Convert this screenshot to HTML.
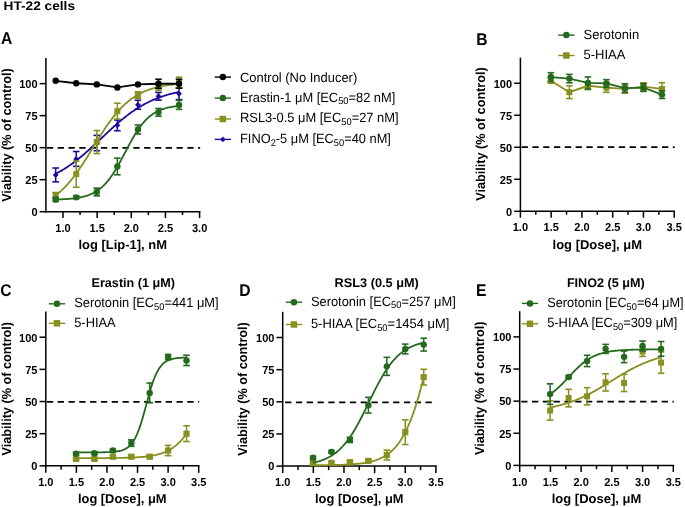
<!DOCTYPE html>
<html><head><meta charset="utf-8"><style>
html,body{margin:0;padding:0;background:#fff;}
svg{display:block;font-family:"Liberation Sans", sans-serif;text-rendering:geometricPrecision;}
#w{width:685px;height:507px;will-change:transform;}
</style></head><body><div id="w">
<svg width="685" height="507" viewBox="0 0 685 507">

<text x="3.50" y="10.20" font-size="12.4" font-weight="bold" textLength="71.5" lengthAdjust="spacingAndGlyphs" fill="#000">HT-22 cells</text>
<text x="0" y="0" transform="translate(0.90,44.00) scale(0.92,1)" font-size="17" font-weight="bold" fill="#000">A</text>
<text x="0" y="0" transform="translate(476.30,44.50) scale(0.92,1)" font-size="17" font-weight="bold" fill="#000">B</text>
<text x="0" y="0" transform="translate(0.30,295.70) scale(0.92,1)" font-size="17" font-weight="bold" fill="#000">C</text>
<text x="0" y="0" transform="translate(239.30,295.50) scale(0.92,1)" font-size="17" font-weight="bold" fill="#000">D</text>
<text x="0" y="0" transform="translate(476.00,295.50) scale(0.92,1)" font-size="17" font-weight="bold" fill="#000">E</text>
<line x1="45.90" y1="58.00" x2="45.90" y2="212.45" stroke="#000" stroke-width="1.5"/>
<line x1="45.15" y1="211.70" x2="200.35" y2="211.70" stroke="#000" stroke-width="1.5"/>
<line x1="39.60" y1="211.70" x2="45.90" y2="211.70" stroke="#000" stroke-width="1.5"/>
<text x="0" y="0" transform="translate(37.60,216.00) scale(0.95,1)" font-size="11.6" font-weight="bold" text-anchor="end" fill="#000">0</text>
<line x1="39.60" y1="179.68" x2="45.90" y2="179.68" stroke="#000" stroke-width="1.5"/>
<text x="0" y="0" transform="translate(37.60,183.98) scale(0.95,1)" font-size="11.6" font-weight="bold" text-anchor="end" fill="#000">25</text>
<line x1="39.60" y1="147.66" x2="45.90" y2="147.66" stroke="#000" stroke-width="1.5"/>
<text x="0" y="0" transform="translate(37.60,151.96) scale(0.95,1)" font-size="11.6" font-weight="bold" text-anchor="end" fill="#000">50</text>
<line x1="39.60" y1="115.64" x2="45.90" y2="115.64" stroke="#000" stroke-width="1.5"/>
<text x="0" y="0" transform="translate(37.60,119.94) scale(0.95,1)" font-size="11.6" font-weight="bold" text-anchor="end" fill="#000">75</text>
<line x1="39.60" y1="83.62" x2="45.90" y2="83.62" stroke="#000" stroke-width="1.5"/>
<text x="0" y="0" transform="translate(37.60,87.92) scale(0.95,1)" font-size="11.6" font-weight="bold" text-anchor="end" fill="#000">100</text>
<line x1="62.98" y1="211.70" x2="62.98" y2="218.10" stroke="#000" stroke-width="1.5"/>
<text x="0" y="0" transform="translate(62.98,231.80) scale(0.95,1)" font-size="11.6" font-weight="bold" text-anchor="middle" fill="#000">1.0</text>
<line x1="97.13" y1="211.70" x2="97.13" y2="218.10" stroke="#000" stroke-width="1.5"/>
<text x="0" y="0" transform="translate(97.13,231.80) scale(0.95,1)" font-size="11.6" font-weight="bold" text-anchor="middle" fill="#000">1.5</text>
<line x1="131.29" y1="211.70" x2="131.29" y2="218.10" stroke="#000" stroke-width="1.5"/>
<text x="0" y="0" transform="translate(131.29,231.80) scale(0.95,1)" font-size="11.6" font-weight="bold" text-anchor="middle" fill="#000">2.0</text>
<line x1="165.44" y1="211.70" x2="165.44" y2="218.10" stroke="#000" stroke-width="1.5"/>
<text x="0" y="0" transform="translate(165.44,231.80) scale(0.95,1)" font-size="11.6" font-weight="bold" text-anchor="middle" fill="#000">2.5</text>
<line x1="199.60" y1="211.70" x2="199.60" y2="218.10" stroke="#000" stroke-width="1.5"/>
<text x="0" y="0" transform="translate(199.60,231.80) scale(0.95,1)" font-size="11.6" font-weight="bold" text-anchor="middle" fill="#000">3.0</text>
<line x1="80.06" y1="211.70" x2="80.06" y2="215.10" stroke="#000" stroke-width="1.5"/>
<line x1="114.21" y1="211.70" x2="114.21" y2="215.10" stroke="#000" stroke-width="1.5"/>
<line x1="148.37" y1="211.70" x2="148.37" y2="215.10" stroke="#000" stroke-width="1.5"/>
<line x1="182.52" y1="211.70" x2="182.52" y2="215.10" stroke="#000" stroke-width="1.5"/>
<text x="122.75" y="248.90" font-size="12.8" font-weight="bold" text-anchor="middle" textLength="88.5" lengthAdjust="spacingAndGlyphs" fill="#000">log [Lip-1], nM</text>
<text x="0" y="0" font-size="13" font-weight="bold" text-anchor="middle" textLength="133.5" lengthAdjust="spacingAndGlyphs" transform="translate(11.0,135.10) rotate(-90)">Viability (% of control)</text>
<line x1="46.70" y1="147.96" x2="200.10" y2="147.96" stroke="#000" stroke-width="1.8" stroke-dasharray="6.3,4.50" stroke-dashoffset="10.60"/>
<polyline points="55.67,173.78 56.70,173.25 57.72,172.71 58.75,172.15 59.78,171.58 60.81,171.00 61.84,170.40 62.87,169.79 63.89,169.17 64.92,168.53 65.95,167.87 66.98,167.21 68.01,166.53 69.03,165.83 70.06,165.12 71.09,164.40 72.12,163.66 73.15,162.91 74.17,162.15 75.20,161.37 76.23,160.58 77.26,159.78 78.29,158.97 79.31,158.14 80.34,157.30 81.37,156.45 82.40,155.59 83.43,154.72 84.45,153.83 85.48,152.94 86.51,152.04 87.54,151.13 88.57,150.21 89.60,149.28 90.62,148.34 91.65,147.40 92.68,146.45 93.71,145.50 94.74,144.54 95.76,143.58 96.79,142.61 97.82,141.64 98.85,140.67 99.88,139.70 100.90,138.72 101.93,137.75 102.96,136.77 103.99,135.80 105.02,134.83 106.04,133.86 107.07,132.89 108.10,131.93 109.13,130.97 110.16,130.02 111.18,129.07 112.21,128.13 113.24,127.20 114.27,126.27 115.30,125.35 116.33,124.44 117.35,123.54 118.38,122.65 119.41,121.76 120.44,120.89 121.47,120.03 122.49,119.18 123.52,118.34 124.55,117.52 125.58,116.71 126.61,115.90 127.63,115.12 128.66,114.34 129.69,113.58 130.72,112.83 131.75,112.09 132.77,111.37 133.80,110.67 134.83,109.97 135.86,109.29 136.89,108.63 137.92,107.98 138.94,107.34 139.97,106.71 141.00,106.11 142.03,105.51 143.06,104.93 144.08,104.36 145.11,103.81 146.14,103.27 147.17,102.74 148.20,102.23 149.22,101.72 150.25,101.24 151.28,100.76 152.31,100.30 153.34,99.85 154.36,99.41 155.39,98.99 156.42,98.57 157.45,98.17 158.48,97.78 159.50,97.40 160.53,97.03 161.56,96.68 162.59,96.33 163.62,95.99 164.65,95.67 165.67,95.35 166.70,95.04 167.73,94.75 168.76,94.46 169.79,94.18 170.81,93.91 171.84,93.65 172.87,93.39 173.90,93.15 174.93,92.91 175.95,92.68 176.98,92.45 178.01,92.24 179.04,92.03" fill="none" stroke="#1d0b9b" stroke-width="1.8"/>
<line x1="55.67" y1="181.86" x2="55.67" y2="168.02" stroke="#1d0b9b" stroke-width="1.5"/>
<line x1="52.37" y1="181.86" x2="58.97" y2="181.86" stroke="#1d0b9b" stroke-width="1.6"/>
<line x1="52.37" y1="168.02" x2="58.97" y2="168.02" stroke="#1d0b9b" stroke-width="1.6"/>
<line x1="76.23" y1="166.36" x2="76.23" y2="151.50" stroke="#1d0b9b" stroke-width="1.5"/>
<line x1="72.93" y1="166.36" x2="79.53" y2="166.36" stroke="#1d0b9b" stroke-width="1.6"/>
<line x1="72.93" y1="151.50" x2="79.53" y2="151.50" stroke="#1d0b9b" stroke-width="1.6"/>
<line x1="96.79" y1="150.73" x2="96.79" y2="135.36" stroke="#1d0b9b" stroke-width="1.5"/>
<line x1="93.49" y1="150.73" x2="100.09" y2="150.73" stroke="#1d0b9b" stroke-width="1.6"/>
<line x1="93.49" y1="135.36" x2="100.09" y2="135.36" stroke="#1d0b9b" stroke-width="1.6"/>
<line x1="117.35" y1="130.75" x2="117.35" y2="119.99" stroke="#1d0b9b" stroke-width="1.5"/>
<line x1="114.05" y1="130.75" x2="120.65" y2="130.75" stroke="#1d0b9b" stroke-width="1.6"/>
<line x1="114.05" y1="119.99" x2="120.65" y2="119.99" stroke="#1d0b9b" stroke-width="1.6"/>
<line x1="137.92" y1="109.23" x2="137.92" y2="100.27" stroke="#1d0b9b" stroke-width="1.5"/>
<line x1="134.62" y1="109.23" x2="141.22" y2="109.23" stroke="#1d0b9b" stroke-width="1.6"/>
<line x1="134.62" y1="100.27" x2="141.22" y2="100.27" stroke="#1d0b9b" stroke-width="1.6"/>
<line x1="158.48" y1="100.14" x2="158.48" y2="92.45" stroke="#1d0b9b" stroke-width="1.5"/>
<line x1="155.18" y1="100.14" x2="161.78" y2="100.14" stroke="#1d0b9b" stroke-width="1.6"/>
<line x1="155.18" y1="92.45" x2="161.78" y2="92.45" stroke="#1d0b9b" stroke-width="1.6"/>
<line x1="179.04" y1="99.63" x2="179.04" y2="87.84" stroke="#1d0b9b" stroke-width="1.5"/>
<line x1="175.74" y1="99.63" x2="182.34" y2="99.63" stroke="#1d0b9b" stroke-width="1.6"/>
<line x1="175.74" y1="87.84" x2="182.34" y2="87.84" stroke="#1d0b9b" stroke-width="1.6"/>
<path d="M55.67,171.94L58.52,174.94L55.67,177.94L52.82,174.94Z" fill="#1d0b9b"/>
<path d="M76.23,155.93L79.08,158.93L76.23,161.93L73.38,158.93Z" fill="#1d0b9b"/>
<path d="M96.79,140.05L99.64,143.05L96.79,146.05L93.94,143.05Z" fill="#1d0b9b"/>
<path d="M117.35,122.37L120.20,125.37L117.35,128.37L114.50,125.37Z" fill="#1d0b9b"/>
<path d="M137.92,101.75L140.77,104.75L137.92,107.75L135.07,104.75Z" fill="#1d0b9b"/>
<path d="M158.48,93.30L161.33,96.30L158.48,99.30L155.63,96.30Z" fill="#1d0b9b"/>
<path d="M179.04,90.74L181.89,93.74L179.04,96.74L176.19,93.74Z" fill="#1d0b9b"/>
<polyline points="55.67,195.33 56.70,194.54 57.72,193.72 58.75,192.87 59.78,191.99 60.81,191.07 61.84,190.13 62.87,189.15 63.89,188.14 64.92,187.10 65.95,186.02 66.98,184.91 68.01,183.77 69.03,182.59 70.06,181.38 71.09,180.14 72.12,178.87 73.15,177.56 74.17,176.23 75.20,174.86 76.23,173.46 77.26,172.04 78.29,170.59 79.31,169.11 80.34,167.60 81.37,166.07 82.40,164.52 83.43,162.95 84.45,161.35 85.48,159.74 86.51,158.12 87.54,156.48 88.57,154.83 89.60,153.17 90.62,151.50 91.65,149.83 92.68,148.15 93.71,146.47 94.74,144.80 95.76,143.13 96.79,141.46 97.82,139.80 98.85,138.15 99.88,136.51 100.90,134.89 101.93,133.28 102.96,131.70 103.99,130.13 105.02,128.58 106.04,127.05 107.07,125.55 108.10,124.08 109.13,122.63 110.16,121.21 111.18,119.82 112.21,118.45 113.24,117.12 114.27,115.82 115.30,114.56 116.33,113.32 117.35,112.12 118.38,110.95 119.41,109.81 120.44,108.71 121.47,107.64 122.49,106.60 123.52,105.60 124.55,104.62 125.58,103.68 126.61,102.78 127.63,101.90 128.66,101.05 129.69,100.24 130.72,99.45 131.75,98.70 132.77,97.97 133.80,97.27 134.83,96.59 135.86,95.95 136.89,95.33 137.92,94.73 138.94,94.16 139.97,93.61 141.00,93.08 142.03,92.58 143.06,92.10 144.08,91.63 145.11,91.19 146.14,90.77 147.17,90.36 148.20,89.98 149.22,89.61 150.25,89.25 151.28,88.92 152.31,88.59 153.34,88.29 154.36,87.99 155.39,87.71 156.42,87.45 157.45,87.19 158.48,86.95 159.50,86.71 160.53,86.49 161.56,86.28 162.59,86.08 163.62,85.89 164.65,85.71 165.67,85.53 166.70,85.37 167.73,85.21 168.76,85.06 169.79,84.92 170.81,84.78 171.84,84.65 172.87,84.53 173.90,84.41 174.93,84.30 175.95,84.19 176.98,84.09 178.01,84.00 179.04,83.90" fill="none" stroke="#889020" stroke-width="1.8"/>
<line x1="55.67" y1="197.61" x2="55.67" y2="192.49" stroke="#889020" stroke-width="1.5"/>
<line x1="52.37" y1="197.61" x2="58.97" y2="197.61" stroke="#889020" stroke-width="1.6"/>
<line x1="52.37" y1="192.49" x2="58.97" y2="192.49" stroke="#889020" stroke-width="1.6"/>
<line x1="76.23" y1="187.24" x2="76.23" y2="161.11" stroke="#889020" stroke-width="1.5"/>
<line x1="72.93" y1="187.24" x2="79.53" y2="187.24" stroke="#889020" stroke-width="1.6"/>
<line x1="72.93" y1="161.11" x2="79.53" y2="161.11" stroke="#889020" stroke-width="1.6"/>
<line x1="96.79" y1="153.55" x2="96.79" y2="130.50" stroke="#889020" stroke-width="1.5"/>
<line x1="93.49" y1="153.55" x2="100.09" y2="153.55" stroke="#889020" stroke-width="1.6"/>
<line x1="93.49" y1="130.50" x2="100.09" y2="130.50" stroke="#889020" stroke-width="1.6"/>
<line x1="117.35" y1="119.10" x2="117.35" y2="103.21" stroke="#889020" stroke-width="1.5"/>
<line x1="114.05" y1="119.10" x2="120.65" y2="119.10" stroke="#889020" stroke-width="1.6"/>
<line x1="114.05" y1="103.21" x2="120.65" y2="103.21" stroke="#889020" stroke-width="1.6"/>
<line x1="137.92" y1="98.47" x2="137.92" y2="91.81" stroke="#889020" stroke-width="1.5"/>
<line x1="134.62" y1="98.47" x2="141.22" y2="98.47" stroke="#889020" stroke-width="1.6"/>
<line x1="134.62" y1="91.81" x2="141.22" y2="91.81" stroke="#889020" stroke-width="1.6"/>
<line x1="158.48" y1="90.41" x2="158.48" y2="83.23" stroke="#889020" stroke-width="1.5"/>
<line x1="155.18" y1="90.41" x2="161.78" y2="90.41" stroke="#889020" stroke-width="1.6"/>
<line x1="155.18" y1="83.23" x2="161.78" y2="83.23" stroke="#889020" stroke-width="1.6"/>
<line x1="179.04" y1="87.46" x2="179.04" y2="77.21" stroke="#889020" stroke-width="1.5"/>
<line x1="175.74" y1="87.46" x2="182.34" y2="87.46" stroke="#889020" stroke-width="1.6"/>
<line x1="175.74" y1="77.21" x2="182.34" y2="77.21" stroke="#889020" stroke-width="1.6"/>
<rect x="52.67" y="192.05" width="6.00" height="6.00" fill="#889020"/>
<rect x="73.23" y="171.17" width="6.00" height="6.00" fill="#889020"/>
<rect x="93.79" y="139.02" width="6.00" height="6.00" fill="#889020"/>
<rect x="114.35" y="108.15" width="6.00" height="6.00" fill="#889020"/>
<rect x="134.92" y="92.14" width="6.00" height="6.00" fill="#889020"/>
<rect x="155.48" y="83.82" width="6.00" height="6.00" fill="#889020"/>
<rect x="176.04" y="79.34" width="6.00" height="6.00" fill="#889020"/>
<polyline points="55.67,199.52 56.70,199.49 57.72,199.46 58.75,199.42 59.78,199.38 60.81,199.34 61.84,199.29 62.87,199.24 63.89,199.19 64.92,199.13 65.95,199.06 66.98,199.00 68.01,198.92 69.03,198.84 70.06,198.75 71.09,198.65 72.12,198.55 73.15,198.44 74.17,198.32 75.20,198.19 76.23,198.04 77.26,197.89 78.29,197.72 79.31,197.54 80.34,197.34 81.37,197.13 82.40,196.90 83.43,196.66 84.45,196.39 85.48,196.10 86.51,195.79 87.54,195.46 88.57,195.10 89.60,194.71 90.62,194.29 91.65,193.84 92.68,193.36 93.71,192.84 94.74,192.28 95.76,191.68 96.79,191.04 97.82,190.36 98.85,189.63 99.88,188.85 100.90,188.02 101.93,187.14 102.96,186.20 103.99,185.20 105.02,184.15 106.04,183.04 107.07,181.86 108.10,180.63 109.13,179.33 110.16,177.97 111.18,176.55 112.21,175.07 113.24,173.52 114.27,171.92 115.30,170.27 116.33,168.56 117.35,166.80 118.38,165.00 119.41,163.16 120.44,161.28 121.47,159.38 122.49,157.45 123.52,155.50 124.55,153.54 125.58,151.58 126.61,149.62 127.63,147.67 128.66,145.73 129.69,143.82 130.72,141.93 131.75,140.08 132.77,138.27 133.80,136.50 134.83,134.77 135.86,133.10 136.89,131.49 137.92,129.93 138.94,128.43 139.97,126.99 141.00,125.61 142.03,124.30 143.06,123.04 144.08,121.85 145.11,120.72 146.14,119.65 147.17,118.64 148.20,117.69 149.22,116.79 150.25,115.94 151.28,115.15 152.31,114.41 153.34,113.71 154.36,113.06 155.39,112.45 156.42,111.88 157.45,111.35 158.48,110.86 159.50,110.40 160.53,109.97 161.56,109.57 162.59,109.21 163.62,108.86 164.65,108.55 165.67,108.25 166.70,107.98 167.73,107.73 168.76,107.49 169.79,107.28 170.81,107.08 171.84,106.89 172.87,106.72 173.90,106.56 174.93,106.42 175.95,106.28 176.98,106.16 178.01,106.04 179.04,105.94" fill="none" stroke="#246a1d" stroke-width="1.8"/>
<line x1="55.67" y1="201.45" x2="55.67" y2="197.61" stroke="#246a1d" stroke-width="1.5"/>
<line x1="52.37" y1="201.45" x2="58.97" y2="201.45" stroke="#246a1d" stroke-width="1.6"/>
<line x1="52.37" y1="197.61" x2="58.97" y2="197.61" stroke="#246a1d" stroke-width="1.6"/>
<line x1="76.23" y1="198.64" x2="76.23" y2="196.07" stroke="#246a1d" stroke-width="1.5"/>
<line x1="72.93" y1="198.64" x2="79.53" y2="198.64" stroke="#246a1d" stroke-width="1.6"/>
<line x1="72.93" y1="196.07" x2="79.53" y2="196.07" stroke="#246a1d" stroke-width="1.6"/>
<line x1="96.79" y1="195.82" x2="96.79" y2="188.13" stroke="#246a1d" stroke-width="1.5"/>
<line x1="93.49" y1="195.82" x2="100.09" y2="195.82" stroke="#246a1d" stroke-width="1.6"/>
<line x1="93.49" y1="188.13" x2="100.09" y2="188.13" stroke="#246a1d" stroke-width="1.6"/>
<line x1="117.35" y1="174.81" x2="117.35" y2="158.16" stroke="#246a1d" stroke-width="1.5"/>
<line x1="114.05" y1="174.81" x2="120.65" y2="174.81" stroke="#246a1d" stroke-width="1.6"/>
<line x1="114.05" y1="158.16" x2="120.65" y2="158.16" stroke="#246a1d" stroke-width="1.6"/>
<line x1="137.92" y1="133.95" x2="137.92" y2="124.99" stroke="#246a1d" stroke-width="1.5"/>
<line x1="134.62" y1="133.95" x2="141.22" y2="133.95" stroke="#246a1d" stroke-width="1.6"/>
<line x1="134.62" y1="124.99" x2="141.22" y2="124.99" stroke="#246a1d" stroke-width="1.6"/>
<line x1="158.48" y1="116.15" x2="158.48" y2="108.46" stroke="#246a1d" stroke-width="1.5"/>
<line x1="155.18" y1="116.15" x2="161.78" y2="116.15" stroke="#246a1d" stroke-width="1.6"/>
<line x1="155.18" y1="108.46" x2="161.78" y2="108.46" stroke="#246a1d" stroke-width="1.6"/>
<line x1="179.04" y1="109.36" x2="179.04" y2="100.40" stroke="#246a1d" stroke-width="1.5"/>
<line x1="175.74" y1="109.36" x2="182.34" y2="109.36" stroke="#246a1d" stroke-width="1.6"/>
<line x1="175.74" y1="100.40" x2="182.34" y2="100.40" stroke="#246a1d" stroke-width="1.6"/>
<circle cx="55.67" cy="199.53" r="3.2" fill="#246a1d"/>
<circle cx="76.23" cy="197.35" r="3.2" fill="#246a1d"/>
<circle cx="96.79" cy="191.98" r="3.2" fill="#246a1d"/>
<circle cx="117.35" cy="166.49" r="3.2" fill="#246a1d"/>
<circle cx="137.92" cy="129.47" r="3.2" fill="#246a1d"/>
<circle cx="158.48" cy="112.31" r="3.2" fill="#246a1d"/>
<circle cx="179.04" cy="104.88" r="3.2" fill="#246a1d"/>
<polyline points="55.67,80.80 76.23,83.23 96.79,84.39 117.35,87.46 137.92,84.39 158.48,83.74 179.04,83.74" fill="none" stroke="#000000" stroke-width="1.8"/>
<line x1="158.48" y1="88.23" x2="158.48" y2="79.26" stroke="#000000" stroke-width="1.5"/>
<line x1="155.18" y1="88.23" x2="161.78" y2="88.23" stroke="#000000" stroke-width="1.6"/>
<line x1="155.18" y1="79.26" x2="161.78" y2="79.26" stroke="#000000" stroke-width="1.6"/>
<line x1="179.04" y1="88.23" x2="179.04" y2="79.26" stroke="#000000" stroke-width="1.5"/>
<line x1="175.74" y1="88.23" x2="182.34" y2="88.23" stroke="#000000" stroke-width="1.6"/>
<line x1="175.74" y1="79.26" x2="182.34" y2="79.26" stroke="#000000" stroke-width="1.6"/>
<circle cx="55.67" cy="80.80" r="3.2" fill="#000000"/>
<circle cx="76.23" cy="83.23" r="3.2" fill="#000000"/>
<circle cx="96.79" cy="84.39" r="3.2" fill="#000000"/>
<circle cx="117.35" cy="87.46" r="3.2" fill="#000000"/>
<circle cx="137.92" cy="84.39" r="3.2" fill="#000000"/>
<circle cx="158.48" cy="83.74" r="3.2" fill="#000000"/>
<circle cx="179.04" cy="83.74" r="3.2" fill="#000000"/>
<line x1="214.70" y1="77.10" x2="231.00" y2="77.10" stroke="#000000" stroke-width="1.4"/>
<circle cx="222.85" cy="77.10" r="3.25" fill="#000000"/>
<text x="240.00" y="81.80" font-size="13.4" textLength="117.2" lengthAdjust="spacingAndGlyphs" fill="#000">Control (No Inducer)</text>
<line x1="214.70" y1="98.10" x2="231.00" y2="98.10" stroke="#246a1d" stroke-width="1.4"/>
<circle cx="222.85" cy="98.10" r="3.25" fill="#246a1d"/>
<text x="240.00" y="101.50" font-size="13.4" textLength="155.3" lengthAdjust="spacingAndGlyphs" fill="#000">Erastin-1 μM [EC<tspan font-size="9.7" dy="2.7">50</tspan><tspan dy="-2.7">=82 nM]</tspan></text>
<line x1="214.70" y1="119.00" x2="231.00" y2="119.00" stroke="#889020" stroke-width="1.4"/>
<rect x="219.60" y="115.75" width="6.50" height="6.50" fill="#889020"/>
<text x="240.00" y="122.40" font-size="13.4" textLength="158.6" lengthAdjust="spacingAndGlyphs" fill="#000">RSL3-0.5 μM [EC<tspan font-size="9.7" dy="2.7">50</tspan><tspan dy="-2.7">=27 nM]</tspan></text>
<line x1="214.70" y1="139.40" x2="231.00" y2="139.40" stroke="#1d0b9b" stroke-width="1.4"/>
<path d="M222.85,136.60L225.51,139.40L222.85,142.20L220.19,139.40Z" fill="#1d0b9b"/>
<text x="240.00" y="142.80" font-size="13.4" textLength="150.9" lengthAdjust="spacingAndGlyphs" fill="#000">FINO<tspan font-size="9.7" dy="2.7">2</tspan><tspan dy="-2.7">-5 μM </tspan>[EC<tspan font-size="9.7" dy="2.7">50</tspan><tspan dy="-2.7">=40 nM]</tspan></text>
<line x1="520.40" y1="57.60" x2="520.40" y2="212.05" stroke="#000" stroke-width="1.5"/>
<line x1="519.65" y1="211.30" x2="674.95" y2="211.30" stroke="#000" stroke-width="1.5"/>
<line x1="514.10" y1="211.30" x2="520.40" y2="211.30" stroke="#000" stroke-width="1.5"/>
<text x="0" y="0" transform="translate(512.10,215.60) scale(0.95,1)" font-size="11.6" font-weight="bold" text-anchor="end" fill="#000">0</text>
<line x1="514.10" y1="179.28" x2="520.40" y2="179.28" stroke="#000" stroke-width="1.5"/>
<text x="0" y="0" transform="translate(512.10,183.58) scale(0.95,1)" font-size="11.6" font-weight="bold" text-anchor="end" fill="#000">25</text>
<line x1="514.10" y1="147.26" x2="520.40" y2="147.26" stroke="#000" stroke-width="1.5"/>
<text x="0" y="0" transform="translate(512.10,151.56) scale(0.95,1)" font-size="11.6" font-weight="bold" text-anchor="end" fill="#000">50</text>
<line x1="514.10" y1="115.24" x2="520.40" y2="115.24" stroke="#000" stroke-width="1.5"/>
<text x="0" y="0" transform="translate(512.10,119.54) scale(0.95,1)" font-size="11.6" font-weight="bold" text-anchor="end" fill="#000">75</text>
<line x1="514.10" y1="83.22" x2="520.40" y2="83.22" stroke="#000" stroke-width="1.5"/>
<text x="0" y="0" transform="translate(512.10,87.52) scale(0.95,1)" font-size="11.6" font-weight="bold" text-anchor="end" fill="#000">100</text>
<line x1="520.40" y1="211.30" x2="520.40" y2="217.70" stroke="#000" stroke-width="1.5"/>
<text x="0" y="0" transform="translate(520.40,231.40) scale(0.95,1)" font-size="11.6" font-weight="bold" text-anchor="middle" fill="#000">1.0</text>
<line x1="551.16" y1="211.30" x2="551.16" y2="217.70" stroke="#000" stroke-width="1.5"/>
<text x="0" y="0" transform="translate(551.16,231.40) scale(0.95,1)" font-size="11.6" font-weight="bold" text-anchor="middle" fill="#000">1.5</text>
<line x1="581.92" y1="211.30" x2="581.92" y2="217.70" stroke="#000" stroke-width="1.5"/>
<text x="0" y="0" transform="translate(581.92,231.40) scale(0.95,1)" font-size="11.6" font-weight="bold" text-anchor="middle" fill="#000">2.0</text>
<line x1="612.68" y1="211.30" x2="612.68" y2="217.70" stroke="#000" stroke-width="1.5"/>
<text x="0" y="0" transform="translate(612.68,231.40) scale(0.95,1)" font-size="11.6" font-weight="bold" text-anchor="middle" fill="#000">2.5</text>
<line x1="643.44" y1="211.30" x2="643.44" y2="217.70" stroke="#000" stroke-width="1.5"/>
<text x="0" y="0" transform="translate(643.44,231.40) scale(0.95,1)" font-size="11.6" font-weight="bold" text-anchor="middle" fill="#000">3.0</text>
<line x1="674.20" y1="211.30" x2="674.20" y2="217.70" stroke="#000" stroke-width="1.5"/>
<text x="0" y="0" transform="translate(674.20,231.40) scale(0.95,1)" font-size="11.6" font-weight="bold" text-anchor="middle" fill="#000">3.5</text>
<line x1="535.78" y1="211.30" x2="535.78" y2="214.70" stroke="#000" stroke-width="1.5"/>
<line x1="566.54" y1="211.30" x2="566.54" y2="214.70" stroke="#000" stroke-width="1.5"/>
<line x1="597.30" y1="211.30" x2="597.30" y2="214.70" stroke="#000" stroke-width="1.5"/>
<line x1="628.06" y1="211.30" x2="628.06" y2="214.70" stroke="#000" stroke-width="1.5"/>
<line x1="658.82" y1="211.30" x2="658.82" y2="214.70" stroke="#000" stroke-width="1.5"/>
<text x="597.30" y="248.90" font-size="12.8" font-weight="bold" text-anchor="middle" textLength="89.5" lengthAdjust="spacingAndGlyphs" fill="#000">log [Dose], μM</text>
<text x="0" y="0" font-size="13" font-weight="bold" text-anchor="middle" textLength="133.5" lengthAdjust="spacingAndGlyphs" transform="translate(485.1,134.00) rotate(-90)">Viability (% of control)</text>
<line x1="521.20" y1="147.16" x2="674.70" y2="147.16" stroke="#000" stroke-width="1.8" stroke-dasharray="6.3,4.50" stroke-dashoffset="10.40"/>
<polyline points="550.85,80.66 569.37,92.18 587.89,85.78 606.40,87.57 624.92,88.85 643.44,86.67 661.96,88.98" fill="none" stroke="#889020" stroke-width="1.8"/>
<line x1="550.85" y1="83.22" x2="550.85" y2="78.09" stroke="#889020" stroke-width="1.5"/>
<line x1="547.55" y1="83.22" x2="554.15" y2="83.22" stroke="#889020" stroke-width="1.6"/>
<line x1="547.55" y1="78.09" x2="554.15" y2="78.09" stroke="#889020" stroke-width="1.6"/>
<line x1="569.37" y1="98.59" x2="569.37" y2="85.78" stroke="#889020" stroke-width="1.5"/>
<line x1="566.07" y1="98.59" x2="572.67" y2="98.59" stroke="#889020" stroke-width="1.6"/>
<line x1="566.07" y1="85.78" x2="572.67" y2="85.78" stroke="#889020" stroke-width="1.6"/>
<line x1="587.89" y1="89.62" x2="587.89" y2="81.94" stroke="#889020" stroke-width="1.5"/>
<line x1="584.59" y1="89.62" x2="591.19" y2="89.62" stroke="#889020" stroke-width="1.6"/>
<line x1="584.59" y1="81.94" x2="591.19" y2="81.94" stroke="#889020" stroke-width="1.6"/>
<line x1="606.40" y1="92.31" x2="606.40" y2="82.83" stroke="#889020" stroke-width="1.5"/>
<line x1="603.10" y1="92.31" x2="609.70" y2="92.31" stroke="#889020" stroke-width="1.6"/>
<line x1="603.10" y1="82.83" x2="609.70" y2="82.83" stroke="#889020" stroke-width="1.6"/>
<line x1="624.92" y1="92.69" x2="624.92" y2="85.01" stroke="#889020" stroke-width="1.5"/>
<line x1="621.62" y1="92.69" x2="628.22" y2="92.69" stroke="#889020" stroke-width="1.6"/>
<line x1="621.62" y1="85.01" x2="628.22" y2="85.01" stroke="#889020" stroke-width="1.6"/>
<line x1="643.44" y1="90.52" x2="643.44" y2="82.83" stroke="#889020" stroke-width="1.5"/>
<line x1="640.14" y1="90.52" x2="646.74" y2="90.52" stroke="#889020" stroke-width="1.6"/>
<line x1="640.14" y1="82.83" x2="646.74" y2="82.83" stroke="#889020" stroke-width="1.6"/>
<line x1="661.96" y1="95.26" x2="661.96" y2="82.70" stroke="#889020" stroke-width="1.5"/>
<line x1="658.66" y1="95.26" x2="665.26" y2="95.26" stroke="#889020" stroke-width="1.6"/>
<line x1="658.66" y1="82.70" x2="665.26" y2="82.70" stroke="#889020" stroke-width="1.6"/>
<rect x="547.85" y="77.66" width="6.00" height="6.00" fill="#889020"/>
<rect x="566.37" y="89.18" width="6.00" height="6.00" fill="#889020"/>
<rect x="584.89" y="82.78" width="6.00" height="6.00" fill="#889020"/>
<rect x="603.40" y="84.57" width="6.00" height="6.00" fill="#889020"/>
<rect x="621.92" y="85.85" width="6.00" height="6.00" fill="#889020"/>
<rect x="640.44" y="83.67" width="6.00" height="6.00" fill="#889020"/>
<rect x="658.96" y="85.98" width="6.00" height="6.00" fill="#889020"/>
<polyline points="550.85,77.07 569.37,78.61 587.89,82.96 606.40,83.47 624.92,88.21 643.44,87.57 661.96,94.62" fill="none" stroke="#246a1d" stroke-width="1.8"/>
<line x1="550.85" y1="81.42" x2="550.85" y2="72.71" stroke="#246a1d" stroke-width="1.5"/>
<line x1="547.55" y1="81.42" x2="554.15" y2="81.42" stroke="#246a1d" stroke-width="1.6"/>
<line x1="547.55" y1="72.71" x2="554.15" y2="72.71" stroke="#246a1d" stroke-width="1.6"/>
<line x1="569.37" y1="82.83" x2="569.37" y2="74.38" stroke="#246a1d" stroke-width="1.5"/>
<line x1="566.07" y1="82.83" x2="572.67" y2="82.83" stroke="#246a1d" stroke-width="1.6"/>
<line x1="566.07" y1="74.38" x2="572.67" y2="74.38" stroke="#246a1d" stroke-width="1.6"/>
<line x1="587.89" y1="88.98" x2="587.89" y2="76.94" stroke="#246a1d" stroke-width="1.5"/>
<line x1="584.59" y1="88.98" x2="591.19" y2="88.98" stroke="#246a1d" stroke-width="1.6"/>
<line x1="584.59" y1="76.94" x2="591.19" y2="76.94" stroke="#246a1d" stroke-width="1.6"/>
<line x1="606.40" y1="87.32" x2="606.40" y2="79.63" stroke="#246a1d" stroke-width="1.5"/>
<line x1="603.10" y1="87.32" x2="609.70" y2="87.32" stroke="#246a1d" stroke-width="1.6"/>
<line x1="603.10" y1="79.63" x2="609.70" y2="79.63" stroke="#246a1d" stroke-width="1.6"/>
<line x1="624.92" y1="92.69" x2="624.92" y2="83.73" stroke="#246a1d" stroke-width="1.5"/>
<line x1="621.62" y1="92.69" x2="628.22" y2="92.69" stroke="#246a1d" stroke-width="1.6"/>
<line x1="621.62" y1="83.73" x2="628.22" y2="83.73" stroke="#246a1d" stroke-width="1.6"/>
<line x1="643.44" y1="91.41" x2="643.44" y2="83.73" stroke="#246a1d" stroke-width="1.5"/>
<line x1="640.14" y1="91.41" x2="646.74" y2="91.41" stroke="#246a1d" stroke-width="1.6"/>
<line x1="640.14" y1="83.73" x2="646.74" y2="83.73" stroke="#246a1d" stroke-width="1.6"/>
<line x1="661.96" y1="98.46" x2="661.96" y2="90.77" stroke="#246a1d" stroke-width="1.5"/>
<line x1="658.66" y1="98.46" x2="665.26" y2="98.46" stroke="#246a1d" stroke-width="1.6"/>
<line x1="658.66" y1="90.77" x2="665.26" y2="90.77" stroke="#246a1d" stroke-width="1.6"/>
<circle cx="550.85" cy="77.07" r="3.2" fill="#246a1d"/>
<circle cx="569.37" cy="78.61" r="3.2" fill="#246a1d"/>
<circle cx="587.89" cy="82.96" r="3.2" fill="#246a1d"/>
<circle cx="606.40" cy="83.47" r="3.2" fill="#246a1d"/>
<circle cx="624.92" cy="88.21" r="3.2" fill="#246a1d"/>
<circle cx="643.44" cy="87.57" r="3.2" fill="#246a1d"/>
<circle cx="661.96" cy="94.62" r="3.2" fill="#246a1d"/>
<line x1="558.20" y1="35.10" x2="574.50" y2="35.10" stroke="#246a1d" stroke-width="1.4"/>
<circle cx="566.35" cy="35.10" r="3.25" fill="#246a1d"/>
<text x="583.60" y="39.00" font-size="13.4" textLength="55.5" lengthAdjust="spacingAndGlyphs" fill="#000">Serotonin</text>
<line x1="558.20" y1="55.50" x2="574.50" y2="55.50" stroke="#889020" stroke-width="1.4"/>
<rect x="563.10" y="52.25" width="6.50" height="6.50" fill="#889020"/>
<text x="583.60" y="59.40" font-size="13.4" textLength="41.8" lengthAdjust="spacingAndGlyphs" fill="#000">5-HIAA</text>
<line x1="45.80" y1="311.50" x2="45.80" y2="466.60" stroke="#000" stroke-width="1.5"/>
<line x1="45.05" y1="465.85" x2="199.45" y2="465.85" stroke="#000" stroke-width="1.5"/>
<line x1="39.50" y1="465.85" x2="45.80" y2="465.85" stroke="#000" stroke-width="1.5"/>
<text x="0" y="0" transform="translate(37.50,470.15) scale(0.95,1)" font-size="11.6" font-weight="bold" text-anchor="end" fill="#000">0</text>
<line x1="39.50" y1="433.69" x2="45.80" y2="433.69" stroke="#000" stroke-width="1.5"/>
<text x="0" y="0" transform="translate(37.50,437.99) scale(0.95,1)" font-size="11.6" font-weight="bold" text-anchor="end" fill="#000">25</text>
<line x1="39.50" y1="401.54" x2="45.80" y2="401.54" stroke="#000" stroke-width="1.5"/>
<text x="0" y="0" transform="translate(37.50,405.84) scale(0.95,1)" font-size="11.6" font-weight="bold" text-anchor="end" fill="#000">50</text>
<line x1="39.50" y1="369.38" x2="45.80" y2="369.38" stroke="#000" stroke-width="1.5"/>
<text x="0" y="0" transform="translate(37.50,373.68) scale(0.95,1)" font-size="11.6" font-weight="bold" text-anchor="end" fill="#000">75</text>
<line x1="39.50" y1="337.23" x2="45.80" y2="337.23" stroke="#000" stroke-width="1.5"/>
<text x="0" y="0" transform="translate(37.50,341.53) scale(0.95,1)" font-size="11.6" font-weight="bold" text-anchor="end" fill="#000">100</text>
<line x1="45.80" y1="465.85" x2="45.80" y2="472.85" stroke="#000" stroke-width="1.5"/>
<text x="0" y="0" transform="translate(45.80,485.95) scale(0.95,1)" font-size="11.6" font-weight="bold" text-anchor="middle" fill="#000">1.0</text>
<line x1="76.38" y1="465.85" x2="76.38" y2="472.85" stroke="#000" stroke-width="1.5"/>
<text x="0" y="0" transform="translate(76.38,485.95) scale(0.95,1)" font-size="11.6" font-weight="bold" text-anchor="middle" fill="#000">1.5</text>
<line x1="106.96" y1="465.85" x2="106.96" y2="472.85" stroke="#000" stroke-width="1.5"/>
<text x="0" y="0" transform="translate(106.96,485.95) scale(0.95,1)" font-size="11.6" font-weight="bold" text-anchor="middle" fill="#000">2.0</text>
<line x1="137.54" y1="465.85" x2="137.54" y2="472.85" stroke="#000" stroke-width="1.5"/>
<text x="0" y="0" transform="translate(137.54,485.95) scale(0.95,1)" font-size="11.6" font-weight="bold" text-anchor="middle" fill="#000">2.5</text>
<line x1="168.12" y1="465.85" x2="168.12" y2="472.85" stroke="#000" stroke-width="1.5"/>
<text x="0" y="0" transform="translate(168.12,485.95) scale(0.95,1)" font-size="11.6" font-weight="bold" text-anchor="middle" fill="#000">3.0</text>
<line x1="198.70" y1="465.85" x2="198.70" y2="472.85" stroke="#000" stroke-width="1.5"/>
<text x="0" y="0" transform="translate(198.70,485.95) scale(0.95,1)" font-size="11.6" font-weight="bold" text-anchor="middle" fill="#000">3.5</text>
<line x1="61.09" y1="465.85" x2="61.09" y2="469.85" stroke="#000" stroke-width="1.5"/>
<line x1="91.67" y1="465.85" x2="91.67" y2="469.85" stroke="#000" stroke-width="1.5"/>
<line x1="122.25" y1="465.85" x2="122.25" y2="469.85" stroke="#000" stroke-width="1.5"/>
<line x1="152.83" y1="465.85" x2="152.83" y2="469.85" stroke="#000" stroke-width="1.5"/>
<line x1="183.41" y1="465.85" x2="183.41" y2="469.85" stroke="#000" stroke-width="1.5"/>
<text x="122.25" y="503.20" font-size="12.8" font-weight="bold" text-anchor="middle" textLength="88.5" lengthAdjust="spacingAndGlyphs" fill="#000">log [Dose], μM</text>
<text x="0" y="0" font-size="13" font-weight="bold" text-anchor="middle" textLength="133.5" lengthAdjust="spacingAndGlyphs" transform="translate(11.0,388.68) rotate(-90)">Viability (% of control)</text>
<line x1="46.60" y1="401.94" x2="199.20" y2="401.94" stroke="#000" stroke-width="1.8" stroke-dasharray="6.3,4.50" stroke-dashoffset="10.50"/>
<text x="91.50" y="286.60" font-size="12.6" font-weight="bold" textLength="83.5" lengthAdjust="spacingAndGlyphs" fill="#000">Erastin (1 μM)</text>
<polyline points="76.07,458.12 76.99,458.12 77.92,458.12 78.84,458.12 79.76,458.12 80.68,458.12 81.60,458.12 82.52,458.12 83.44,458.12 84.36,458.11 85.28,458.11 86.20,458.11 87.12,458.11 88.04,458.11 88.96,458.11 89.88,458.11 90.80,458.10 91.72,458.10 92.64,458.10 93.56,458.10 94.48,458.10 95.40,458.09 96.32,458.09 97.24,458.09 98.17,458.08 99.09,458.08 100.01,458.08 100.93,458.07 101.85,458.07 102.77,458.06 103.69,458.06 104.61,458.05 105.53,458.05 106.45,458.04 107.37,458.04 108.29,458.03 109.21,458.02 110.13,458.02 111.05,458.01 111.97,458.00 112.89,457.99 113.81,457.98 114.73,457.97 115.65,457.96 116.57,457.95 117.49,457.93 118.42,457.92 119.34,457.91 120.26,457.89 121.18,457.87 122.10,457.86 123.02,457.84 123.94,457.82 124.86,457.79 125.78,457.77 126.70,457.74 127.62,457.72 128.54,457.69 129.46,457.66 130.38,457.63 131.30,457.59 132.22,457.55 133.14,457.51 134.06,457.47 134.98,457.43 135.90,457.38 136.82,457.32 137.74,457.27 138.67,457.21 139.59,457.15 140.51,457.08 141.43,457.00 142.35,456.93 143.27,456.84 144.19,456.76 145.11,456.66 146.03,456.56 146.95,456.45 147.87,456.34 148.79,456.21 149.71,456.08 150.63,455.94 151.55,455.80 152.47,455.64 153.39,455.47 154.31,455.29 155.23,455.09 156.15,454.89 157.07,454.67 157.99,454.44 158.92,454.19 159.84,453.92 160.76,453.64 161.68,453.34 162.60,453.02 163.52,452.68 164.44,452.32 165.36,451.94 166.28,451.53 167.20,451.10 168.12,450.64 169.04,450.16 169.96,449.64 170.88,449.10 171.80,448.52 172.72,447.91 173.64,447.26 174.56,446.58 175.48,445.86 176.40,445.10 177.32,444.29 178.25,443.45 179.17,442.56 180.09,441.63 181.01,440.65 181.93,439.62 182.85,438.54 183.77,437.41 184.69,436.23 185.61,435.00 186.53,433.72" fill="none" stroke="#889020" stroke-width="1.8"/>
<line x1="76.07" y1="460.19" x2="76.07" y2="457.62" stroke="#889020" stroke-width="1.5"/>
<line x1="72.77" y1="460.19" x2="79.37" y2="460.19" stroke="#889020" stroke-width="1.6"/>
<line x1="72.77" y1="457.62" x2="79.37" y2="457.62" stroke="#889020" stroke-width="1.6"/>
<line x1="94.48" y1="460.19" x2="94.48" y2="457.62" stroke="#889020" stroke-width="1.5"/>
<line x1="91.18" y1="460.19" x2="97.78" y2="460.19" stroke="#889020" stroke-width="1.6"/>
<line x1="91.18" y1="457.62" x2="97.78" y2="457.62" stroke="#889020" stroke-width="1.6"/>
<line x1="112.89" y1="458.00" x2="112.89" y2="455.43" stroke="#889020" stroke-width="1.5"/>
<line x1="109.59" y1="458.00" x2="116.19" y2="458.00" stroke="#889020" stroke-width="1.6"/>
<line x1="109.59" y1="455.43" x2="116.19" y2="455.43" stroke="#889020" stroke-width="1.6"/>
<line x1="131.30" y1="458.00" x2="131.30" y2="455.43" stroke="#889020" stroke-width="1.5"/>
<line x1="128.00" y1="458.00" x2="134.60" y2="458.00" stroke="#889020" stroke-width="1.6"/>
<line x1="128.00" y1="455.43" x2="134.60" y2="455.43" stroke="#889020" stroke-width="1.6"/>
<line x1="149.71" y1="458.00" x2="149.71" y2="455.43" stroke="#889020" stroke-width="1.5"/>
<line x1="146.41" y1="458.00" x2="153.01" y2="458.00" stroke="#889020" stroke-width="1.6"/>
<line x1="146.41" y1="455.43" x2="153.01" y2="455.43" stroke="#889020" stroke-width="1.6"/>
<line x1="168.12" y1="455.69" x2="168.12" y2="445.40" stroke="#889020" stroke-width="1.5"/>
<line x1="164.82" y1="455.69" x2="171.42" y2="455.69" stroke="#889020" stroke-width="1.6"/>
<line x1="164.82" y1="445.40" x2="171.42" y2="445.40" stroke="#889020" stroke-width="1.6"/>
<line x1="186.53" y1="441.54" x2="186.53" y2="425.85" stroke="#889020" stroke-width="1.5"/>
<line x1="183.23" y1="441.54" x2="189.83" y2="441.54" stroke="#889020" stroke-width="1.6"/>
<line x1="183.23" y1="425.85" x2="189.83" y2="425.85" stroke="#889020" stroke-width="1.6"/>
<rect x="72.97" y="455.80" width="6.20" height="6.20" fill="#889020"/>
<rect x="91.38" y="455.80" width="6.20" height="6.20" fill="#889020"/>
<rect x="109.79" y="453.62" width="6.20" height="6.20" fill="#889020"/>
<rect x="128.20" y="453.62" width="6.20" height="6.20" fill="#889020"/>
<rect x="146.61" y="453.62" width="6.20" height="6.20" fill="#889020"/>
<rect x="165.02" y="447.44" width="6.20" height="6.20" fill="#889020"/>
<rect x="183.43" y="430.59" width="6.20" height="6.20" fill="#889020"/>
<polyline points="76.07,452.38 76.99,452.38 77.92,452.38 78.84,452.38 79.76,452.38 80.68,452.38 81.60,452.38 82.52,452.38 83.44,452.38 84.36,452.38 85.28,452.38 86.20,452.38 87.12,452.37 88.04,452.37 88.96,452.37 89.88,452.37 90.80,452.37 91.72,452.36 92.64,452.36 93.56,452.36 94.48,452.35 95.40,452.35 96.32,452.35 97.24,452.34 98.17,452.33 99.09,452.32 100.01,452.32 100.93,452.30 101.85,452.29 102.77,452.28 103.69,452.26 104.61,452.24 105.53,452.22 106.45,452.20 107.37,452.17 108.29,452.14 109.21,452.10 110.13,452.05 111.05,452.00 111.97,451.94 112.89,451.88 113.81,451.80 114.73,451.71 115.65,451.60 116.57,451.48 117.49,451.34 118.42,451.19 119.34,451.00 120.26,450.79 121.18,450.55 122.10,450.27 123.02,449.95 123.94,449.58 124.86,449.16 125.78,448.68 126.70,448.13 127.62,447.51 128.54,446.80 129.46,445.99 130.38,445.07 131.30,444.04 132.22,442.87 133.14,441.56 134.06,440.10 134.98,438.47 135.90,436.67 136.82,434.68 137.74,432.51 138.67,430.14 139.59,427.59 140.51,424.86 141.43,421.95 142.35,418.89 143.27,415.70 144.19,412.40 145.11,409.03 146.03,405.61 146.95,402.19 147.87,398.79 148.79,395.45 149.71,392.21 150.63,389.09 151.55,386.12 152.47,383.31 153.39,380.68 154.31,378.24 155.23,375.98 156.15,373.92 157.07,372.04 157.99,370.34 158.92,368.81 159.84,367.43 160.76,366.21 161.68,365.12 162.60,364.15 163.52,363.30 164.44,362.55 165.36,361.88 166.28,361.30 167.20,360.80 168.12,360.35 169.04,359.96 169.96,359.62 170.88,359.33 171.80,359.07 172.72,358.85 173.64,358.65 174.56,358.48 175.48,358.34 176.40,358.21 177.32,358.10 178.25,358.00 179.17,357.92 180.09,357.85 181.01,357.79 181.93,357.73 182.85,357.68 183.77,357.64 184.69,357.61 185.61,357.58 186.53,357.55" fill="none" stroke="#246a1d" stroke-width="1.8"/>
<line x1="76.07" y1="454.92" x2="76.07" y2="452.34" stroke="#246a1d" stroke-width="1.5"/>
<line x1="72.77" y1="454.92" x2="79.37" y2="454.92" stroke="#246a1d" stroke-width="1.6"/>
<line x1="72.77" y1="452.34" x2="79.37" y2="452.34" stroke="#246a1d" stroke-width="1.6"/>
<line x1="94.48" y1="454.53" x2="94.48" y2="451.96" stroke="#246a1d" stroke-width="1.5"/>
<line x1="91.18" y1="454.53" x2="97.78" y2="454.53" stroke="#246a1d" stroke-width="1.6"/>
<line x1="91.18" y1="451.96" x2="97.78" y2="451.96" stroke="#246a1d" stroke-width="1.6"/>
<line x1="112.89" y1="451.70" x2="112.89" y2="449.13" stroke="#246a1d" stroke-width="1.5"/>
<line x1="109.59" y1="451.70" x2="116.19" y2="451.70" stroke="#246a1d" stroke-width="1.6"/>
<line x1="109.59" y1="449.13" x2="116.19" y2="449.13" stroke="#246a1d" stroke-width="1.6"/>
<line x1="131.30" y1="446.30" x2="131.30" y2="439.87" stroke="#246a1d" stroke-width="1.5"/>
<line x1="128.00" y1="446.30" x2="134.60" y2="446.30" stroke="#246a1d" stroke-width="1.6"/>
<line x1="128.00" y1="439.87" x2="134.60" y2="439.87" stroke="#246a1d" stroke-width="1.6"/>
<line x1="149.71" y1="402.82" x2="149.71" y2="383.02" stroke="#246a1d" stroke-width="1.5"/>
<line x1="146.41" y1="402.82" x2="153.01" y2="402.82" stroke="#246a1d" stroke-width="1.6"/>
<line x1="146.41" y1="383.02" x2="153.01" y2="383.02" stroke="#246a1d" stroke-width="1.6"/>
<line x1="168.12" y1="359.61" x2="168.12" y2="354.46" stroke="#246a1d" stroke-width="1.5"/>
<line x1="164.82" y1="359.61" x2="171.42" y2="359.61" stroke="#246a1d" stroke-width="1.6"/>
<line x1="164.82" y1="354.46" x2="171.42" y2="354.46" stroke="#246a1d" stroke-width="1.6"/>
<line x1="186.53" y1="365.52" x2="186.53" y2="355.23" stroke="#246a1d" stroke-width="1.5"/>
<line x1="183.23" y1="365.52" x2="189.83" y2="365.52" stroke="#246a1d" stroke-width="1.6"/>
<line x1="183.23" y1="355.23" x2="189.83" y2="355.23" stroke="#246a1d" stroke-width="1.6"/>
<circle cx="76.07" cy="453.63" r="3.2" fill="#246a1d"/>
<circle cx="94.48" cy="453.24" r="3.2" fill="#246a1d"/>
<circle cx="112.89" cy="450.42" r="3.2" fill="#246a1d"/>
<circle cx="131.30" cy="443.08" r="3.2" fill="#246a1d"/>
<circle cx="149.71" cy="392.92" r="3.2" fill="#246a1d"/>
<circle cx="168.12" cy="357.03" r="3.2" fill="#246a1d"/>
<circle cx="186.53" cy="360.38" r="3.2" fill="#246a1d"/>
<line x1="48.80" y1="303.80" x2="65.10" y2="303.80" stroke="#246a1d" stroke-width="1.4"/>
<circle cx="56.95" cy="303.80" r="3.25" fill="#246a1d"/>
<text x="74.20" y="307.20" font-size="13.4" textLength="144.4" lengthAdjust="spacingAndGlyphs" fill="#000">Serotonin [EC<tspan font-size="9.7" dy="2.7">50</tspan><tspan dy="-2.7">=441 μM]</tspan></text>
<line x1="48.80" y1="323.30" x2="65.10" y2="323.30" stroke="#889020" stroke-width="1.4"/>
<rect x="53.70" y="320.05" width="6.50" height="6.50" fill="#889020"/>
<text x="74.20" y="326.70" font-size="13.4" textLength="41.5" lengthAdjust="spacingAndGlyphs" fill="#000">5-HIAA</text>
<line x1="282.70" y1="311.80" x2="282.70" y2="466.85" stroke="#000" stroke-width="1.5"/>
<line x1="281.95" y1="466.10" x2="436.65" y2="466.10" stroke="#000" stroke-width="1.5"/>
<line x1="276.40" y1="466.10" x2="282.70" y2="466.10" stroke="#000" stroke-width="1.5"/>
<text x="0" y="0" transform="translate(274.40,470.40) scale(0.95,1)" font-size="11.6" font-weight="bold" text-anchor="end" fill="#000">0</text>
<line x1="276.40" y1="433.95" x2="282.70" y2="433.95" stroke="#000" stroke-width="1.5"/>
<text x="0" y="0" transform="translate(274.40,438.25) scale(0.95,1)" font-size="11.6" font-weight="bold" text-anchor="end" fill="#000">25</text>
<line x1="276.40" y1="401.81" x2="282.70" y2="401.81" stroke="#000" stroke-width="1.5"/>
<text x="0" y="0" transform="translate(274.40,406.11) scale(0.95,1)" font-size="11.6" font-weight="bold" text-anchor="end" fill="#000">50</text>
<line x1="276.40" y1="369.66" x2="282.70" y2="369.66" stroke="#000" stroke-width="1.5"/>
<text x="0" y="0" transform="translate(274.40,373.96) scale(0.95,1)" font-size="11.6" font-weight="bold" text-anchor="end" fill="#000">75</text>
<line x1="276.40" y1="337.52" x2="282.70" y2="337.52" stroke="#000" stroke-width="1.5"/>
<text x="0" y="0" transform="translate(274.40,341.82) scale(0.95,1)" font-size="11.6" font-weight="bold" text-anchor="end" fill="#000">100</text>
<line x1="282.70" y1="466.10" x2="282.70" y2="473.10" stroke="#000" stroke-width="1.5"/>
<text x="0" y="0" transform="translate(282.70,486.20) scale(0.95,1)" font-size="11.6" font-weight="bold" text-anchor="middle" fill="#000">1.0</text>
<line x1="313.34" y1="466.10" x2="313.34" y2="473.10" stroke="#000" stroke-width="1.5"/>
<text x="0" y="0" transform="translate(313.34,486.20) scale(0.95,1)" font-size="11.6" font-weight="bold" text-anchor="middle" fill="#000">1.5</text>
<line x1="343.98" y1="466.10" x2="343.98" y2="473.10" stroke="#000" stroke-width="1.5"/>
<text x="0" y="0" transform="translate(343.98,486.20) scale(0.95,1)" font-size="11.6" font-weight="bold" text-anchor="middle" fill="#000">2.0</text>
<line x1="374.62" y1="466.10" x2="374.62" y2="473.10" stroke="#000" stroke-width="1.5"/>
<text x="0" y="0" transform="translate(374.62,486.20) scale(0.95,1)" font-size="11.6" font-weight="bold" text-anchor="middle" fill="#000">2.5</text>
<line x1="405.26" y1="466.10" x2="405.26" y2="473.10" stroke="#000" stroke-width="1.5"/>
<text x="0" y="0" transform="translate(405.26,486.20) scale(0.95,1)" font-size="11.6" font-weight="bold" text-anchor="middle" fill="#000">3.0</text>
<line x1="435.90" y1="466.10" x2="435.90" y2="473.10" stroke="#000" stroke-width="1.5"/>
<text x="0" y="0" transform="translate(435.90,486.20) scale(0.95,1)" font-size="11.6" font-weight="bold" text-anchor="middle" fill="#000">3.5</text>
<line x1="298.02" y1="466.10" x2="298.02" y2="470.10" stroke="#000" stroke-width="1.5"/>
<line x1="328.66" y1="466.10" x2="328.66" y2="470.10" stroke="#000" stroke-width="1.5"/>
<line x1="359.30" y1="466.10" x2="359.30" y2="470.10" stroke="#000" stroke-width="1.5"/>
<line x1="389.94" y1="466.10" x2="389.94" y2="470.10" stroke="#000" stroke-width="1.5"/>
<line x1="420.58" y1="466.10" x2="420.58" y2="470.10" stroke="#000" stroke-width="1.5"/>
<text x="359.30" y="503.20" font-size="12.8" font-weight="bold" text-anchor="middle" textLength="88.5" lengthAdjust="spacingAndGlyphs" fill="#000">log [Dose], μM</text>
<text x="0" y="0" font-size="13" font-weight="bold" text-anchor="middle" textLength="133.5" lengthAdjust="spacingAndGlyphs" transform="translate(247.2,388.95) rotate(-90)">Viability (% of control)</text>
<line x1="283.50" y1="402.41" x2="436.40" y2="402.41" stroke="#000" stroke-width="1.8" stroke-dasharray="6.3,4.50" stroke-dashoffset="9.20"/>
<text x="334.60" y="286.60" font-size="12.6" font-weight="bold" textLength="84.2" lengthAdjust="spacingAndGlyphs" fill="#000">RSL3 (0.5 μM)</text>
<polyline points="313.03,465.28 313.96,465.27 314.88,465.27 315.80,465.26 316.72,465.26 317.64,465.25 318.57,465.24 319.49,465.24 320.41,465.23 321.33,465.22 322.26,465.21 323.18,465.20 324.10,465.19 325.02,465.18 325.95,465.17 326.87,465.16 327.79,465.15 328.71,465.13 329.63,465.12 330.56,465.10 331.48,465.09 332.40,465.07 333.32,465.05 334.25,465.03 335.17,465.01 336.09,464.99 337.01,464.97 337.93,464.94 338.86,464.92 339.78,464.89 340.70,464.86 341.62,464.83 342.55,464.79 343.47,464.76 344.39,464.72 345.31,464.68 346.24,464.64 347.16,464.59 348.08,464.54 349.00,464.49 349.92,464.44 350.85,464.38 351.77,464.31 352.69,464.25 353.61,464.18 354.54,464.10 355.46,464.02 356.38,463.94 357.30,463.85 358.22,463.75 359.15,463.65 360.07,463.55 360.99,463.43 361.91,463.31 362.84,463.18 363.76,463.04 364.68,462.90 365.60,462.74 366.52,462.58 367.45,462.40 368.37,462.21 369.29,462.02 370.21,461.81 371.14,461.58 372.06,461.35 372.98,461.10 373.90,460.83 374.83,460.55 375.75,460.25 376.67,459.93 377.59,459.59 378.51,459.23 379.44,458.85 380.36,458.44 381.28,458.01 382.20,457.56 383.13,457.08 384.05,456.57 384.97,456.03 385.89,455.45 386.81,454.85 387.74,454.21 388.66,453.53 389.58,452.81 390.50,452.05 391.43,451.24 392.35,450.39 393.27,449.49 394.19,448.54 395.12,447.54 396.04,446.48 396.96,445.37 397.88,444.19 398.80,442.95 399.73,441.65 400.65,440.27 401.57,438.83 402.49,437.31 403.42,435.72 404.34,434.04 405.26,432.28 406.18,430.44 407.10,428.51 408.03,426.49 408.95,424.38 409.87,422.18 410.79,419.88 411.72,417.48 412.64,414.98 413.56,412.39 414.48,409.69 415.40,406.89 416.33,403.98 417.25,400.98 418.17,397.87 419.09,394.66 420.02,391.36 420.94,387.96 421.86,384.46 422.78,380.87 423.71,377.19" fill="none" stroke="#889020" stroke-width="1.8"/>
<line x1="313.03" y1="464.20" x2="313.03" y2="461.63" stroke="#889020" stroke-width="1.5"/>
<line x1="309.73" y1="464.20" x2="316.33" y2="464.20" stroke="#889020" stroke-width="1.6"/>
<line x1="309.73" y1="461.63" x2="316.33" y2="461.63" stroke="#889020" stroke-width="1.6"/>
<line x1="331.48" y1="464.20" x2="331.48" y2="461.63" stroke="#889020" stroke-width="1.5"/>
<line x1="328.18" y1="464.20" x2="334.78" y2="464.20" stroke="#889020" stroke-width="1.6"/>
<line x1="328.18" y1="461.63" x2="334.78" y2="461.63" stroke="#889020" stroke-width="1.6"/>
<line x1="349.92" y1="463.43" x2="349.92" y2="460.86" stroke="#889020" stroke-width="1.5"/>
<line x1="346.62" y1="463.43" x2="353.22" y2="463.43" stroke="#889020" stroke-width="1.6"/>
<line x1="346.62" y1="460.86" x2="353.22" y2="460.86" stroke="#889020" stroke-width="1.6"/>
<line x1="368.37" y1="462.14" x2="368.37" y2="459.57" stroke="#889020" stroke-width="1.5"/>
<line x1="365.07" y1="462.14" x2="371.67" y2="462.14" stroke="#889020" stroke-width="1.6"/>
<line x1="365.07" y1="459.57" x2="371.67" y2="459.57" stroke="#889020" stroke-width="1.6"/>
<line x1="386.81" y1="459.96" x2="386.81" y2="450.18" stroke="#889020" stroke-width="1.5"/>
<line x1="383.51" y1="459.96" x2="390.11" y2="459.96" stroke="#889020" stroke-width="1.6"/>
<line x1="383.51" y1="450.18" x2="390.11" y2="450.18" stroke="#889020" stroke-width="1.6"/>
<line x1="405.26" y1="444.53" x2="405.26" y2="419.84" stroke="#889020" stroke-width="1.5"/>
<line x1="401.96" y1="444.53" x2="408.56" y2="444.53" stroke="#889020" stroke-width="1.6"/>
<line x1="401.96" y1="419.84" x2="408.56" y2="419.84" stroke="#889020" stroke-width="1.6"/>
<line x1="423.71" y1="384.99" x2="423.71" y2="369.31" stroke="#889020" stroke-width="1.5"/>
<line x1="420.41" y1="384.99" x2="427.01" y2="384.99" stroke="#889020" stroke-width="1.6"/>
<line x1="420.41" y1="369.31" x2="427.01" y2="369.31" stroke="#889020" stroke-width="1.6"/>
<rect x="309.93" y="459.81" width="6.20" height="6.20" fill="#889020"/>
<rect x="328.38" y="459.81" width="6.20" height="6.20" fill="#889020"/>
<rect x="346.82" y="459.04" width="6.20" height="6.20" fill="#889020"/>
<rect x="365.27" y="457.76" width="6.20" height="6.20" fill="#889020"/>
<rect x="383.71" y="451.97" width="6.20" height="6.20" fill="#889020"/>
<rect x="402.16" y="429.08" width="6.20" height="6.20" fill="#889020"/>
<rect x="420.61" y="374.05" width="6.20" height="6.20" fill="#889020"/>
<polyline points="313.03,462.72 313.96,462.52 314.88,462.31 315.80,462.09 316.72,461.85 317.64,461.61 318.57,461.34 319.49,461.07 320.41,460.77 321.33,460.47 322.26,460.14 323.18,459.79 324.10,459.43 325.02,459.05 325.95,458.64 326.87,458.21 327.79,457.76 328.71,457.29 329.63,456.79 330.56,456.26 331.48,455.71 332.40,455.12 333.32,454.51 334.25,453.87 335.17,453.19 336.09,452.49 337.01,451.74 337.93,450.97 338.86,450.15 339.78,449.30 340.70,448.41 341.62,447.48 342.55,446.51 343.47,445.50 344.39,444.44 345.31,443.35 346.24,442.21 347.16,441.03 348.08,439.80 349.00,438.53 349.92,437.22 350.85,435.86 351.77,434.46 352.69,433.01 353.61,431.53 354.54,430.00 355.46,428.43 356.38,426.82 357.30,425.18 358.22,423.50 359.15,421.79 360.07,420.04 360.99,418.27 361.91,416.47 362.84,414.65 363.76,412.80 364.68,410.94 365.60,409.06 366.52,407.17 367.45,405.28 368.37,403.37 369.29,401.47 370.21,399.57 371.14,397.67 372.06,395.79 372.98,393.91 373.90,392.05 374.83,390.21 375.75,388.39 376.67,386.60 377.59,384.83 378.51,383.09 379.44,381.39 380.36,379.71 381.28,378.08 382.20,376.48 383.13,374.92 384.05,373.40 384.97,371.92 385.89,370.48 386.81,369.09 387.74,367.74 388.66,366.44 389.58,365.18 390.50,363.96 391.43,362.79 392.35,361.66 393.27,360.57 394.19,359.52 395.12,358.52 396.04,357.56 396.96,356.64 397.88,355.75 398.80,354.91 399.73,354.10 400.65,353.33 401.57,352.60 402.49,351.90 403.42,351.23 404.34,350.59 405.26,349.99 406.18,349.41 407.10,348.86 408.03,348.34 408.95,347.84 409.87,347.37 410.79,346.93 411.72,346.51 412.64,346.10 413.56,345.72 414.48,345.36 415.40,345.02 416.33,344.70 417.25,344.39 418.17,344.10 419.09,343.83 420.02,343.57 420.94,343.33 421.86,343.10 422.78,342.88 423.71,342.67" fill="none" stroke="#246a1d" stroke-width="1.8"/>
<line x1="313.03" y1="458.93" x2="313.03" y2="456.36" stroke="#246a1d" stroke-width="1.5"/>
<line x1="309.73" y1="458.93" x2="316.33" y2="458.93" stroke="#246a1d" stroke-width="1.6"/>
<line x1="309.73" y1="456.36" x2="316.33" y2="456.36" stroke="#246a1d" stroke-width="1.6"/>
<line x1="331.48" y1="453.14" x2="331.48" y2="450.57" stroke="#246a1d" stroke-width="1.5"/>
<line x1="328.18" y1="453.14" x2="334.78" y2="453.14" stroke="#246a1d" stroke-width="1.6"/>
<line x1="328.18" y1="450.57" x2="334.78" y2="450.57" stroke="#246a1d" stroke-width="1.6"/>
<line x1="349.92" y1="442.47" x2="349.92" y2="437.33" stroke="#246a1d" stroke-width="1.5"/>
<line x1="346.62" y1="442.47" x2="353.22" y2="442.47" stroke="#246a1d" stroke-width="1.6"/>
<line x1="346.62" y1="437.33" x2="353.22" y2="437.33" stroke="#246a1d" stroke-width="1.6"/>
<line x1="368.37" y1="413.02" x2="368.37" y2="397.34" stroke="#246a1d" stroke-width="1.5"/>
<line x1="365.07" y1="413.02" x2="371.67" y2="413.02" stroke="#246a1d" stroke-width="1.6"/>
<line x1="365.07" y1="397.34" x2="371.67" y2="397.34" stroke="#246a1d" stroke-width="1.6"/>
<line x1="386.81" y1="375.35" x2="386.81" y2="357.35" stroke="#246a1d" stroke-width="1.5"/>
<line x1="383.51" y1="375.35" x2="390.11" y2="375.35" stroke="#246a1d" stroke-width="1.6"/>
<line x1="383.51" y1="357.35" x2="390.11" y2="357.35" stroke="#246a1d" stroke-width="1.6"/>
<line x1="405.26" y1="353.88" x2="405.26" y2="344.10" stroke="#246a1d" stroke-width="1.5"/>
<line x1="401.96" y1="353.88" x2="408.56" y2="353.88" stroke="#246a1d" stroke-width="1.6"/>
<line x1="401.96" y1="344.10" x2="408.56" y2="344.10" stroke="#246a1d" stroke-width="1.6"/>
<line x1="423.71" y1="351.05" x2="423.71" y2="338.19" stroke="#246a1d" stroke-width="1.5"/>
<line x1="420.41" y1="351.05" x2="427.01" y2="351.05" stroke="#246a1d" stroke-width="1.6"/>
<line x1="420.41" y1="338.19" x2="427.01" y2="338.19" stroke="#246a1d" stroke-width="1.6"/>
<circle cx="313.03" cy="457.64" r="3.2" fill="#246a1d"/>
<circle cx="331.48" cy="451.86" r="3.2" fill="#246a1d"/>
<circle cx="349.92" cy="439.90" r="3.2" fill="#246a1d"/>
<circle cx="368.37" cy="405.18" r="3.2" fill="#246a1d"/>
<circle cx="386.81" cy="366.35" r="3.2" fill="#246a1d"/>
<circle cx="405.26" cy="348.99" r="3.2" fill="#246a1d"/>
<circle cx="423.71" cy="344.62" r="3.2" fill="#246a1d"/>
<line x1="285.80" y1="302.20" x2="302.10" y2="302.20" stroke="#246a1d" stroke-width="1.4"/>
<circle cx="293.95" cy="302.20" r="3.25" fill="#246a1d"/>
<text x="310.90" y="305.60" font-size="13.4" textLength="144.9" lengthAdjust="spacingAndGlyphs" fill="#000">Serotonin [EC<tspan font-size="9.7" dy="2.7">50</tspan><tspan dy="-2.7">=257 μM]</tspan></text>
<line x1="285.80" y1="324.50" x2="302.10" y2="324.50" stroke="#889020" stroke-width="1.4"/>
<rect x="290.70" y="321.25" width="6.50" height="6.50" fill="#889020"/>
<text x="310.90" y="327.90" font-size="13.4" textLength="138.5" lengthAdjust="spacingAndGlyphs" fill="#000">5-HIAA [EC<tspan font-size="9.7" dy="2.7">50</tspan><tspan dy="-2.7">=1454 μM]</tspan></text>
<line x1="519.70" y1="311.20" x2="519.70" y2="466.15" stroke="#000" stroke-width="1.5"/>
<line x1="518.95" y1="465.40" x2="674.05" y2="465.40" stroke="#000" stroke-width="1.5"/>
<line x1="513.40" y1="465.40" x2="519.70" y2="465.40" stroke="#000" stroke-width="1.5"/>
<text x="0" y="0" transform="translate(511.40,469.70) scale(0.95,1)" font-size="11.6" font-weight="bold" text-anchor="end" fill="#000">0</text>
<line x1="513.40" y1="433.27" x2="519.70" y2="433.27" stroke="#000" stroke-width="1.5"/>
<text x="0" y="0" transform="translate(511.40,437.57) scale(0.95,1)" font-size="11.6" font-weight="bold" text-anchor="end" fill="#000">25</text>
<line x1="513.40" y1="401.15" x2="519.70" y2="401.15" stroke="#000" stroke-width="1.5"/>
<text x="0" y="0" transform="translate(511.40,405.45) scale(0.95,1)" font-size="11.6" font-weight="bold" text-anchor="end" fill="#000">50</text>
<line x1="513.40" y1="369.02" x2="519.70" y2="369.02" stroke="#000" stroke-width="1.5"/>
<text x="0" y="0" transform="translate(511.40,373.32) scale(0.95,1)" font-size="11.6" font-weight="bold" text-anchor="end" fill="#000">75</text>
<line x1="513.40" y1="336.90" x2="519.70" y2="336.90" stroke="#000" stroke-width="1.5"/>
<text x="0" y="0" transform="translate(511.40,341.20) scale(0.95,1)" font-size="11.6" font-weight="bold" text-anchor="end" fill="#000">100</text>
<line x1="519.70" y1="465.40" x2="519.70" y2="472.00" stroke="#000" stroke-width="1.5"/>
<text x="0" y="0" transform="translate(519.70,485.50) scale(0.95,1)" font-size="11.6" font-weight="bold" text-anchor="middle" fill="#000">1.0</text>
<line x1="550.42" y1="465.40" x2="550.42" y2="472.00" stroke="#000" stroke-width="1.5"/>
<text x="0" y="0" transform="translate(550.42,485.50) scale(0.95,1)" font-size="11.6" font-weight="bold" text-anchor="middle" fill="#000">1.5</text>
<line x1="581.14" y1="465.40" x2="581.14" y2="472.00" stroke="#000" stroke-width="1.5"/>
<text x="0" y="0" transform="translate(581.14,485.50) scale(0.95,1)" font-size="11.6" font-weight="bold" text-anchor="middle" fill="#000">2.0</text>
<line x1="611.86" y1="465.40" x2="611.86" y2="472.00" stroke="#000" stroke-width="1.5"/>
<text x="0" y="0" transform="translate(611.86,485.50) scale(0.95,1)" font-size="11.6" font-weight="bold" text-anchor="middle" fill="#000">2.5</text>
<line x1="642.58" y1="465.40" x2="642.58" y2="472.00" stroke="#000" stroke-width="1.5"/>
<text x="0" y="0" transform="translate(642.58,485.50) scale(0.95,1)" font-size="11.6" font-weight="bold" text-anchor="middle" fill="#000">3.0</text>
<line x1="673.30" y1="465.40" x2="673.30" y2="472.00" stroke="#000" stroke-width="1.5"/>
<text x="0" y="0" transform="translate(673.30,485.50) scale(0.95,1)" font-size="11.6" font-weight="bold" text-anchor="middle" fill="#000">3.5</text>
<line x1="535.06" y1="465.40" x2="535.06" y2="469.20" stroke="#000" stroke-width="1.5"/>
<line x1="565.78" y1="465.40" x2="565.78" y2="469.20" stroke="#000" stroke-width="1.5"/>
<line x1="596.50" y1="465.40" x2="596.50" y2="469.20" stroke="#000" stroke-width="1.5"/>
<line x1="627.22" y1="465.40" x2="627.22" y2="469.20" stroke="#000" stroke-width="1.5"/>
<line x1="657.94" y1="465.40" x2="657.94" y2="469.20" stroke="#000" stroke-width="1.5"/>
<text x="596.50" y="502.80" font-size="12.8" font-weight="bold" text-anchor="middle" textLength="89.5" lengthAdjust="spacingAndGlyphs" fill="#000">log [Dose], μM</text>
<text x="0" y="0" font-size="13" font-weight="bold" text-anchor="middle" textLength="133.5" lengthAdjust="spacingAndGlyphs" transform="translate(484.3,388.30) rotate(-90)">Viability (% of control)</text>
<line x1="520.50" y1="401.65" x2="673.80" y2="401.65" stroke="#000" stroke-width="1.8" stroke-dasharray="6.3,4.50" stroke-dashoffset="10.10"/>
<text x="566.90" y="286.60" font-size="12.6" font-weight="bold" textLength="77.9" lengthAdjust="spacingAndGlyphs" fill="#000">FINO2 (5 μM)</text>
<polyline points="550.11,407.49 551.04,407.31 551.96,407.13 552.89,406.94 553.81,406.75 554.74,406.55 555.66,406.34 556.59,406.13 557.51,405.91 558.43,405.69 559.36,405.45 560.28,405.22 561.21,404.97 562.13,404.72 563.06,404.46 563.98,404.20 564.91,403.93 565.83,403.65 566.76,403.36 567.68,403.07 568.61,402.77 569.53,402.46 570.46,402.14 571.38,401.81 572.30,401.48 573.23,401.14 574.15,400.79 575.08,400.44 576.00,400.07 576.93,399.70 577.85,399.32 578.78,398.93 579.70,398.53 580.63,398.13 581.55,397.72 582.48,397.30 583.40,396.87 584.33,396.43 585.25,395.99 586.18,395.53 587.10,395.07 588.02,394.61 588.95,394.13 589.87,393.65 590.80,393.16 591.72,392.67 592.65,392.16 593.57,391.66 594.50,391.14 595.42,390.62 596.35,390.10 597.27,389.56 598.20,389.03 599.12,388.48 600.05,387.94 600.97,387.39 601.89,386.83 602.82,386.28 603.74,385.71 604.67,385.15 605.59,384.58 606.52,384.01 607.44,383.44 608.37,382.87 609.29,382.30 610.22,381.72 611.14,381.15 612.07,380.57 612.99,380.00 613.92,379.42 614.84,378.85 615.76,378.28 616.69,377.71 617.61,377.14 618.54,376.58 619.46,376.02 620.39,375.46 621.31,374.91 622.24,374.36 623.16,373.81 624.09,373.27 625.01,372.74 625.94,372.20 626.86,371.68 627.79,371.16 628.71,370.65 629.63,370.14 630.56,369.64 631.48,369.14 632.41,368.66 633.33,368.18 634.26,367.70 635.18,367.24 636.11,366.78 637.03,366.33 637.96,365.89 638.88,365.45 639.81,365.02 640.73,364.60 641.66,364.19 642.58,363.79 643.50,363.39 644.43,363.01 645.35,362.63 646.28,362.26 647.20,361.89 648.13,361.54 649.05,361.19 649.98,360.85 650.90,360.52 651.83,360.20 652.75,359.88 653.68,359.57 654.60,359.27 655.53,358.98 656.45,358.69 657.37,358.42 658.30,358.15 659.22,357.88 660.15,357.63 661.07,357.38" fill="none" stroke="#889020" stroke-width="1.8"/>
<line x1="550.11" y1="420.18" x2="550.11" y2="400.91" stroke="#889020" stroke-width="1.5"/>
<line x1="546.81" y1="420.18" x2="553.41" y2="420.18" stroke="#889020" stroke-width="1.6"/>
<line x1="546.81" y1="400.91" x2="553.41" y2="400.91" stroke="#889020" stroke-width="1.6"/>
<line x1="568.61" y1="406.82" x2="568.61" y2="389.34" stroke="#889020" stroke-width="1.5"/>
<line x1="565.31" y1="406.82" x2="571.91" y2="406.82" stroke="#889020" stroke-width="1.6"/>
<line x1="565.31" y1="389.34" x2="571.91" y2="389.34" stroke="#889020" stroke-width="1.6"/>
<line x1="587.10" y1="404.89" x2="587.10" y2="387.67" stroke="#889020" stroke-width="1.5"/>
<line x1="583.80" y1="404.89" x2="590.40" y2="404.89" stroke="#889020" stroke-width="1.6"/>
<line x1="583.80" y1="387.67" x2="590.40" y2="387.67" stroke="#889020" stroke-width="1.6"/>
<line x1="605.59" y1="391.01" x2="605.59" y2="373.79" stroke="#889020" stroke-width="1.5"/>
<line x1="602.29" y1="391.01" x2="608.89" y2="391.01" stroke="#889020" stroke-width="1.6"/>
<line x1="602.29" y1="373.79" x2="608.89" y2="373.79" stroke="#889020" stroke-width="1.6"/>
<line x1="624.09" y1="391.53" x2="624.09" y2="374.31" stroke="#889020" stroke-width="1.5"/>
<line x1="620.79" y1="391.53" x2="627.39" y2="391.53" stroke="#889020" stroke-width="1.6"/>
<line x1="620.79" y1="374.31" x2="627.39" y2="374.31" stroke="#889020" stroke-width="1.6"/>
<line x1="642.58" y1="356.45" x2="642.58" y2="346.68" stroke="#889020" stroke-width="1.5"/>
<line x1="639.28" y1="356.45" x2="645.88" y2="356.45" stroke="#889020" stroke-width="1.6"/>
<line x1="639.28" y1="346.68" x2="645.88" y2="346.68" stroke="#889020" stroke-width="1.6"/>
<line x1="661.07" y1="373.28" x2="661.07" y2="351.95" stroke="#889020" stroke-width="1.5"/>
<line x1="657.77" y1="373.28" x2="664.37" y2="373.28" stroke="#889020" stroke-width="1.6"/>
<line x1="657.77" y1="351.95" x2="664.37" y2="351.95" stroke="#889020" stroke-width="1.6"/>
<rect x="547.11" y="407.54" width="6.00" height="6.00" fill="#889020"/>
<rect x="565.61" y="395.08" width="6.00" height="6.00" fill="#889020"/>
<rect x="584.10" y="393.28" width="6.00" height="6.00" fill="#889020"/>
<rect x="602.59" y="379.40" width="6.00" height="6.00" fill="#889020"/>
<rect x="621.09" y="379.92" width="6.00" height="6.00" fill="#889020"/>
<rect x="639.58" y="348.56" width="6.00" height="6.00" fill="#889020"/>
<rect x="658.07" y="359.61" width="6.00" height="6.00" fill="#889020"/>
<polyline points="550.11,394.08 551.04,393.46 551.96,392.82 552.89,392.14 553.81,391.44 554.74,390.71 555.66,389.96 556.59,389.18 557.51,388.37 558.43,387.54 559.36,386.68 560.28,385.80 561.21,384.91 562.13,383.99 563.06,383.05 563.98,382.10 564.91,381.14 565.83,380.17 566.76,379.18 567.68,378.19 568.61,377.20 569.53,376.21 570.46,375.22 571.38,374.23 572.30,373.25 573.23,372.28 574.15,371.32 575.08,370.37 576.00,369.44 576.93,368.53 577.85,367.64 578.78,366.77 579.70,365.92 580.63,365.10 581.55,364.30 582.48,363.53 583.40,362.78 584.33,362.06 585.25,361.37 586.18,360.71 587.10,360.07 588.02,359.46 588.95,358.88 589.87,358.32 590.80,357.79 591.72,357.29 592.65,356.81 593.57,356.36 594.50,355.93 595.42,355.52 596.35,355.14 597.27,354.78 598.20,354.43 599.12,354.11 600.05,353.81 600.97,353.52 601.89,353.25 602.82,353.00 603.74,352.76 604.67,352.53 605.59,352.32 606.52,352.13 607.44,351.94 608.37,351.77 609.29,351.61 610.22,351.46 611.14,351.32 612.07,351.19 612.99,351.06 613.92,350.95 614.84,350.84 615.76,350.74 616.69,350.64 617.61,350.56 618.54,350.47 619.46,350.40 620.39,350.33 621.31,350.26 622.24,350.20 623.16,350.14 624.09,350.08 625.01,350.03 625.94,349.99 626.86,349.94 627.79,349.90 628.71,349.87 629.63,349.83 630.56,349.80 631.48,349.77 632.41,349.74 633.33,349.71 634.26,349.69 635.18,349.66 636.11,349.64 637.03,349.62 637.96,349.60 638.88,349.59 639.81,349.57 640.73,349.55 641.66,349.54 642.58,349.53 643.50,349.52 644.43,349.50 645.35,349.49 646.28,349.48 647.20,349.48 648.13,349.47 649.05,349.46 649.98,349.45 650.90,349.44 651.83,349.44 652.75,349.43 653.68,349.43 654.60,349.42 655.53,349.42 656.45,349.41 657.37,349.41 658.30,349.40 659.22,349.40 660.15,349.40 661.07,349.39" fill="none" stroke="#246a1d" stroke-width="1.8"/>
<line x1="550.11" y1="404.38" x2="550.11" y2="383.82" stroke="#246a1d" stroke-width="1.5"/>
<line x1="546.81" y1="404.38" x2="553.41" y2="404.38" stroke="#246a1d" stroke-width="1.6"/>
<line x1="546.81" y1="383.82" x2="553.41" y2="383.82" stroke="#246a1d" stroke-width="1.6"/>
<line x1="568.61" y1="378.29" x2="568.61" y2="375.72" stroke="#246a1d" stroke-width="1.5"/>
<line x1="565.31" y1="378.29" x2="571.91" y2="378.29" stroke="#246a1d" stroke-width="1.6"/>
<line x1="565.31" y1="375.72" x2="571.91" y2="375.72" stroke="#246a1d" stroke-width="1.6"/>
<line x1="587.10" y1="366.60" x2="587.10" y2="355.29" stroke="#246a1d" stroke-width="1.5"/>
<line x1="583.80" y1="366.60" x2="590.40" y2="366.60" stroke="#246a1d" stroke-width="1.6"/>
<line x1="583.80" y1="355.29" x2="590.40" y2="355.29" stroke="#246a1d" stroke-width="1.6"/>
<line x1="605.59" y1="353.36" x2="605.59" y2="344.37" stroke="#246a1d" stroke-width="1.5"/>
<line x1="602.29" y1="353.36" x2="608.89" y2="353.36" stroke="#246a1d" stroke-width="1.6"/>
<line x1="602.29" y1="344.37" x2="608.89" y2="344.37" stroke="#246a1d" stroke-width="1.6"/>
<line x1="624.09" y1="362.61" x2="624.09" y2="351.05" stroke="#246a1d" stroke-width="1.5"/>
<line x1="620.79" y1="362.61" x2="627.39" y2="362.61" stroke="#246a1d" stroke-width="1.6"/>
<line x1="620.79" y1="351.05" x2="627.39" y2="351.05" stroke="#246a1d" stroke-width="1.6"/>
<line x1="642.58" y1="351.05" x2="642.58" y2="341.03" stroke="#246a1d" stroke-width="1.5"/>
<line x1="639.28" y1="351.05" x2="645.88" y2="351.05" stroke="#246a1d" stroke-width="1.6"/>
<line x1="639.28" y1="341.03" x2="645.88" y2="341.03" stroke="#246a1d" stroke-width="1.6"/>
<line x1="661.07" y1="356.19" x2="661.07" y2="341.54" stroke="#246a1d" stroke-width="1.5"/>
<line x1="657.77" y1="356.19" x2="664.37" y2="356.19" stroke="#246a1d" stroke-width="1.6"/>
<line x1="657.77" y1="341.54" x2="664.37" y2="341.54" stroke="#246a1d" stroke-width="1.6"/>
<circle cx="550.11" cy="394.10" r="3.2" fill="#246a1d"/>
<circle cx="568.61" cy="377.01" r="3.2" fill="#246a1d"/>
<circle cx="587.10" cy="360.94" r="3.2" fill="#246a1d"/>
<circle cx="605.59" cy="348.86" r="3.2" fill="#246a1d"/>
<circle cx="624.09" cy="356.83" r="3.2" fill="#246a1d"/>
<circle cx="642.58" cy="346.04" r="3.2" fill="#246a1d"/>
<circle cx="661.07" cy="348.86" r="3.2" fill="#246a1d"/>
<line x1="521.80" y1="303.40" x2="538.10" y2="303.40" stroke="#246a1d" stroke-width="1.4"/>
<circle cx="529.95" cy="303.40" r="3.25" fill="#246a1d"/>
<text x="547.20" y="306.80" font-size="13.4" textLength="136.4" lengthAdjust="spacingAndGlyphs" fill="#000">Serotonin [EC<tspan font-size="9.7" dy="2.7">50</tspan><tspan dy="-2.7">=64 μM]</tspan></text>
<line x1="521.80" y1="323.80" x2="538.10" y2="323.80" stroke="#889020" stroke-width="1.4"/>
<rect x="526.70" y="320.55" width="6.50" height="6.50" fill="#889020"/>
<text x="547.20" y="327.20" font-size="13.4" textLength="130.2" lengthAdjust="spacingAndGlyphs" fill="#000">5-HIAA [EC<tspan font-size="9.7" dy="2.7">50</tspan><tspan dy="-2.7">=309 μM]</tspan></text>
</svg></div></body></html>
